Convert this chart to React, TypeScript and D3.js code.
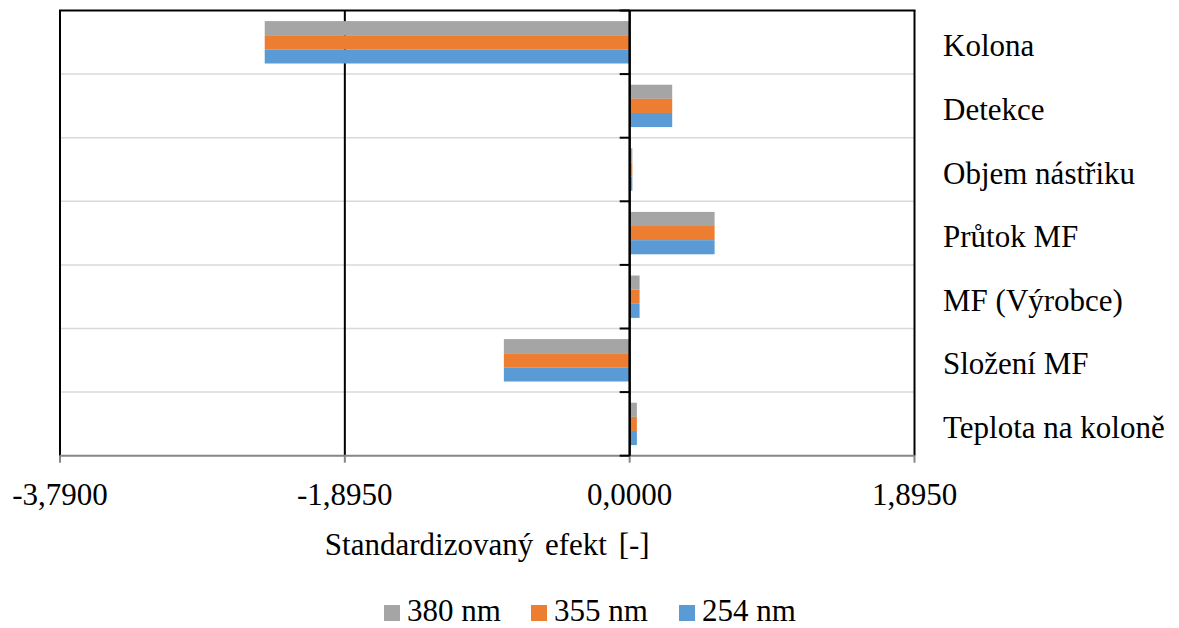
import React from "react";
import * as d3 from "d3";

const categories = [
  "Kolona",
  "Detekce",
  "Objem nástřiku",
  "Průtok MF",
  "MF (Výrobce)",
  "Složení MF",
  "Teplota na koloně",
];
const values380 = [-2.428, 0.283, 0.018, 0.565, 0.066, -0.837, 0.048];
const values355 = [-2.428, 0.283, 0.018, 0.565, 0.066, -0.837, 0.048];
const values254 = [-2.428, 0.283, 0.018, 0.565, 0.066, -0.837, 0.048];
const seriesNames = ["380 nm", "355 nm", "254 nm"];
const seriesColors = ["#A5A5A5", "#ED7D31", "#5B9BD5"];
const tickValues = [-3.79, -1.895, 0, 1.895];
const axisTitle = "Standardizovaný efekt [-]";

const W = 1179;
const H = 628;
const left = 60;
const right = 914.5;
const top = 10.5;
const bottom = 455.7;
const FS = 31;

const fmt = (v: number) => d3.format(".4f")(v).replace(".", ",").replace("−", "-");

export default function App() {
  const x = d3.scaleLinear().domain([-3.79, 1.895]).range([left, right]);
  const y = d3.scaleBand<string>().domain(categories).range([top, bottom]).padding(0);
  const band = y.bandwidth();
  const barH = band / 4.5;
  const groupOff = (band - 3 * barH) / 2;
  const series = [values380, values355, values254];
  const x0 = x(0);

  const legendX = [384, 531, 679];
  const ts = { fontFamily: "'Liberation Serif'", fontSize: FS };

  return (
    <div style={{ position: "absolute", left: 0, top: 0, width: W, height: H }}>
      <svg width={W} height={H} style={{ display: "block" }}>
        <rect x={0} y={0} width={W} height={H} fill="#fff" />
        {categories.slice(1).map((c) => (
          <line key={"g" + c} x1={left} x2={right} y1={y(c)!} y2={y(c)!} stroke="#D9D9D9" strokeWidth={1.5} />
        ))}
        {tickValues.filter((t) => t !== 0).map((t) => (
          <line key={"v" + t} x1={x(t)} x2={x(t)} y1={top} y2={bottom} stroke="#000" strokeWidth={2} />
        ))}
        <line x1={left - 1} x2={right + 1} y1={top} y2={top} stroke="#000" strokeWidth={2} />
        {categories.map((c, i) =>
          series.map((vals, s) => {
            const v = vals[i];
            const bx = Math.min(x(v), x0);
            const bw = Math.abs(x(v) - x0);
            return (
              <rect
                key={c + s}
                x={bx}
                y={y(c)! + groupOff + s * barH}
                width={bw}
                height={barH}
                fill={seriesColors[s]}
              />
            );
          })
        )}
        <line x1={left} x2={right} y1={bottom} y2={bottom} stroke="#868686" strokeWidth={2} />
        {tickValues.map((t) => (
          <line key={"t" + t} x1={x(t)} x2={x(t)} y1={bottom} y2={bottom + 7} stroke="#868686" strokeWidth={2} />
        ))}
        <line x1={x0} x2={x0} y1={top} y2={bottom} stroke="#000" strokeWidth={2.5} />
        {categories.map((c) => (
          <line key={"ct" + c} x1={x0 - 10} x2={x0} y1={y(c)! + band} y2={y(c)! + band} stroke="#000" strokeWidth={2} />
        ))}
        <line x1={x0 - 10} x2={x0} y1={top} y2={top} stroke="#000" strokeWidth={2} />
        {tickValues.map((t) => (
          <text key={"tl" + t} style={ts} x={x(t)} y={505} textAnchor="middle">
            {fmt(t)}
          </text>
        ))}
        {categories.map((c) => (
          <text key={"cl" + c} style={ts} x={943} y={y(c)! + band / 2 + 14}>
            {c}
          </text>
        ))}
        <text style={{ ...ts, wordSpacing: 4 }} x={(left + right) / 2} y={555} textAnchor="middle">
          {axisTitle}
        </text>
        {seriesNames.map((n, i) => (
          <g key={n}>
            <rect x={legendX[i]} y={605} width={16} height={16} fill={seriesColors[i]} />
            <text style={ts} x={legendX[i] + 23} y={621}>
              {n}
            </text>
          </g>
        ))}
      </svg>
    </div>
  );
}
